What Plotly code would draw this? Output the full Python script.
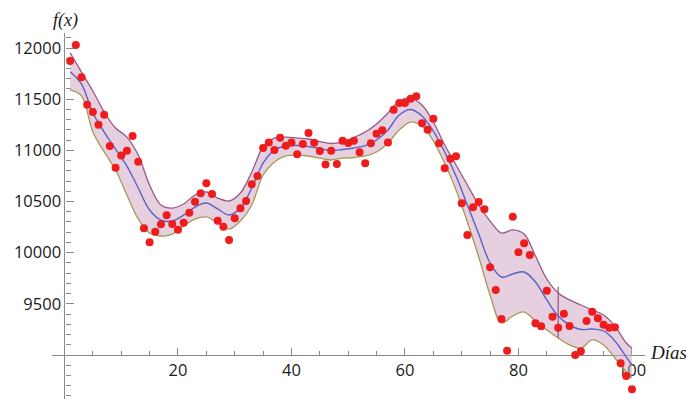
import plotly.graph_objects as go

# Observed points (day, value)
days = list(range(1, 101))
values = [11873, 12029, 11714, 11446, 11375, 11250, 11348, 11042, 10830, 10951,
          10996, 11140, 10889, 10238, 10101, 10205, 10277, 10365, 10280, 10224,
          10293, 10390, 10498, 10580, 10678, 10573, 10312, 10254, 10124, 10336,
          10434, 10505, 10668, 10749, 11023, 11078, 11003, 11124, 11045, 11078,
          10961, 11062, 11169, 11075, 10993, 10863, 10996, 10866, 11094, 11072,
          11094, 10981, 10873, 11069, 11163, 11196, 11078, 11397, 11463, 11463,
          11505, 11528, 11264, 11202, 11309, 11069, 10824, 10918, 10942, 10482,
          10173, 10443, 10495, 10424, 9857, 9635, 9352, 9042, 10351, 10004,
          10092, 9977, 9310, 9281, 9628, 9374, 9267, 9404, 9283, 9000,
          9036, 9332, 9423, 9359, 9296, 9267, 9271, 8919, 8795, 8665]

# Fitted curve and band, read at sample days
curve_days = list(range(1, 100, 2)) + [100]
fit = [11768, 11648, 11365, 11179, 11013, 10847, 10632, 10417, 10319, 10309,
       10368, 10446, 10485, 10427, 10368, 10436, 10632, 10876, 11003, 11042,
       11047, 11037, 11018, 10998, 11008, 11023, 11047, 11101, 11199, 11345,
       11399, 11336, 11189, 10984, 10749, 10466, 10182, 9899, 9762, 9792,
       9811, 9713, 9538, 9381, 9293, 9249, 9254, 9235, 9137, 8980, 8902]
upper = [11954, 11765, 11580, 11375, 11218, 11130, 10954, 10661, 10466, 10436,
         10476, 10563, 10593, 10534, 10505, 10583, 10788, 11033, 11120, 11130,
         11120, 11111, 11086, 11067, 11081, 11125, 11179, 11257, 11365, 11482,
         11511, 11443, 11277, 11052, 10857, 10661, 10466, 10309, 10192, 10222,
         10182, 9967, 9743, 9606, 9538, 9489, 9440, 9391, 9283, 9117, 9068]
lower = [11590, 11531, 11179, 10984, 10808, 10563, 10329, 10192, 10163, 10182,
         10261, 10329, 10349, 10290, 10231, 10309, 10466, 10759, 10886, 10945,
         10954, 10945, 10925, 10906, 10925, 10930, 10945, 10984, 11072, 11199,
         11277, 11238, 11091, 10876, 10612, 10300, 9958, 9586, 9313, 9381,
         9420, 9332, 9244, 9166, 9098, 9068, 9147, 9098, 8971, 8834, 8775]

# small vertical segment seen in the band
seg_x = [87, 87]
seg_y = [9667, 9163]

y_tickvals = [9500, 10000, 10500, 11000, 11500, 12000]
y_ticktext = ["9500", "10000", "10500", "11000", "11500", "12000"]
x_tickvals = [20, 40, 60, 80, 100]
x_ticktext = ["20", "40", "60", "80", "100"]

xmin, xmax = -2.2, 102.3
ymin, ymax = 8570, 12147

fig = go.Figure()
fig.add_trace(go.Scatter(x=curve_days, y=lower, mode="lines",
                         line=dict(color="#a59a55", width=1.3, shape="spline"),
                         hoverinfo="skip", showlegend=False))
fig.add_trace(go.Scatter(x=curve_days, y=upper, mode="lines",
                         line=dict(color="#98588a", width=1.3, shape="spline"),
                         fill="tonexty", fillcolor="rgba(205,160,192,0.5)",
                         hoverinfo="skip", showlegend=False))
fig.add_trace(go.Scatter(x=seg_x, y=seg_y, mode="lines",
                         line=dict(color="#98588a", width=1.3),
                         showlegend=False))
fig.add_trace(go.Scatter(x=curve_days, y=fit, mode="lines",
                         line=dict(color="#5a62c4", width=1.4, shape="spline"),
                         showlegend=False))
fig.add_trace(go.Scatter(x=days, y=values, mode="markers",
                         marker=dict(color="#ee1c1c", size=8),
                         showlegend=False))

axis_font = dict(family="Open Sans, Noto Sans, sans-serif", size=16.5, color="#1a1a1a")

fig.update_layout(
    width=686, height=399,
    margin=dict(l=52, r=41, t=33, b=0),
    paper_bgcolor="white", plot_bgcolor="white",
    xaxis=dict(range=[xmin, xmax], showgrid=False, zeroline=False,
               showline=True, linecolor="#8a8a8a", linewidth=1.2,
               anchor="free", position=(9000 - ymin) / (ymax - ymin),
               tickmode="array", tickvals=x_tickvals, ticktext=x_ticktext,
               ticks="inside", ticklen=7, tickcolor="#8a8a8a", tickwidth=1,
               minor=dict(tickmode="linear", tick0=0, dtick=5, ticks="inside",
                          ticklen=4, tickcolor="#8a8a8a"),
               tickfont=axis_font, layer="below traces", automargin=False),
    yaxis=dict(range=[ymin, ymax], showgrid=False, zeroline=False,
               showline=True, linecolor="#8a8a8a", linewidth=1.2,
               anchor="free", position=(0 - xmin) / (xmax - xmin),
               tickmode="array", tickvals=y_tickvals, ticktext=y_ticktext,
               ticks="inside", ticklen=8, tickcolor="#8a8a8a", tickwidth=1,
               minor=dict(tickmode="linear", tick0=0, dtick=100, ticks="inside",
                          ticklen=5, tickcolor="#8a8a8a"),
               tickfont=axis_font, layer="below traces", automargin=False),
    annotations=[
        dict(text="<i>f(x)</i>", xref="paper", yref="paper",
             x=0.0236, y=1.0355, showarrow=False, xanchor="center", yanchor="middle",
             font=dict(family="Liberation Serif, serif", size=18, color="#1a1a1a")),
        dict(text="<i>Días</i>", xref="paper", yref="paper",
             x=1.0388, y=0.1284, showarrow=False, xanchor="center", yanchor="middle",
             font=dict(family="Liberation Serif, serif", size=19, color="#1a1a1a")),
    ],
)

fig.write_html("out.html")
